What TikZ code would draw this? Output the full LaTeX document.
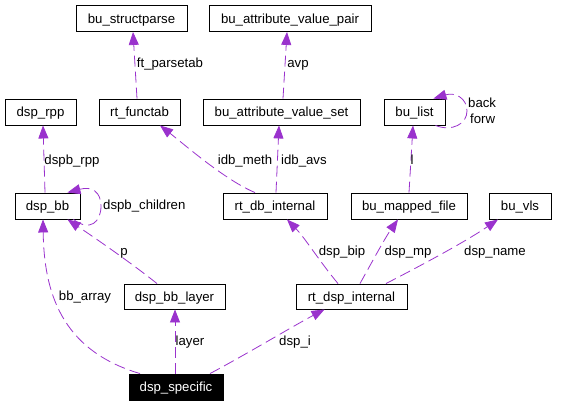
\documentclass[tikz,border=0pt]{standalone}
\usepackage{fontspec}
\setmainfont{Liberation Sans}
\usetikzlibrary{arrows.meta}
\definecolor{edgecol}{HTML}{9A32CD}
\tikzset{
  cls/.style={draw=black, line width=0.9pt, inner sep=0pt, text height=9.6pt, text depth=0pt,
    minimum height=26pt, font=\fontsize{13.2}{15}\selectfont},
  hl/.style={cls, fill=black, text=white},
  lbl/.style={inner sep=0pt, text height=9.6pt, text depth=0pt, font=\fontsize{13.2}{15}\selectfont},
  use/.style={draw=edgecol, line width=0.8pt, dash pattern=on 11pt off 5pt,
    -{Triangle[length=13pt,width=10pt]}, shorten >=0pt},
}
\begin{document}
\begin{tikzpicture}[x=1pt,y=-1pt]
\useasboundingbox (0,0) rectangle (588,405);
% nodes
\node[cls, minimum width=111pt] (sp) at (131.5,18.5) {bu\_structparse};
\node[cls, minimum width=162pt] (avp) at (290,18.5) {bu\_attribute\_value\_pair};
\node[cls, minimum width=71pt] (rpp) at (40.5,112) {dsp\_rpp};
\node[cls, minimum width=81pt] (ft) at (139.5,112) {rt\_functab};
\node[cls, minimum width=157pt] (avs) at (281.5,112) {bu\_attribute\_value\_set};
\node[cls, minimum width=61pt] (bl) at (414.5,112) {bu\_list};
\node[cls, minimum width=65pt] (bb) at (47.5,206) {dsp\_bb};
\node[cls, minimum width=104pt] (dbi) at (275,206) {rt\_db\_internal};
\node[cls, minimum width=116pt] (mf) at (409,206) {bu\_mapped\_file};
\node[cls, minimum width=62pt] (vls) at (520,206) {bu\_vls};
\node[cls, minimum width=101pt, minimum height=25pt] (lay) at (174.5,296.5) {dsp\_bb\_layer};
\node[cls, minimum width=111pt, minimum height=25pt] (dspi) at (351.5,296.5) {rt\_dsp\_internal};
\node[hl, minimum width=94pt] (spec) at (176,387) {dsp\_specific};
% edges
\draw[use] ([xshift=-2.5pt]ft.north) -- ([xshift=1.5pt]sp.south);
\node[lbl] (l1) at (170,63) {ft\_parsetab};
\draw[use] ([xshift=1.5pt]avs.north) -- ([xshift=-3pt]avp.south);
\node[lbl] (l2) at (298,63) {avp};
\draw[use] ([xshift=-2.5pt]bb.north) -- ([xshift=2.5pt]rpp.south);
\node[lbl] (l3) at (72,160) {dspb\_rpp};
\draw[use] ([xshift=-7pt]bb.south east) .. controls (90,232) and (101,222) .. (101,206)
  .. controls (101,192) and (92,186) .. ([xshift=-13pt]bb.north east);
\node[lbl, anchor=west] (l4) at (103,205) {dspb\_children};
\draw[use] ([xshift=-20pt]dbi.north) .. controls (225,180) and (185,145) .. ([xshift=20.5pt]ft.south);
\node[lbl] (l5) at (245,160) {idb\_meth};
\draw[use] ([xshift=1pt]dbi.north) -- ([xshift=-2.5pt]avs.south);
\node[lbl, anchor=west] (l6) at (281,160) {idb\_avs};
\draw[use] ([xshift=-10pt]bl.south east) .. controls (452,132) and (467,124) .. (467,111)
  .. controls (467,98) and (455,92) .. ([xshift=-12pt]bl.north east);
\node[lbl, anchor=west] (l7) at (468,103) {back};
\node[lbl, anchor=west] (l8) at (470,119) {forw};
\draw[use] (mf.north) -- ([xshift=-1.5pt]bl.south);
\node[lbl] (l9) at (412,160) {l};
\draw[use] ([xshift=-17.5pt]lay.north) .. controls (130,262) and (95,238) .. ([xshift=20pt]bb.south);
\node[lbl] (l10) at (124,251) {p};
\draw[use] ([xshift=-36pt]spec.north) .. controls (60,350) and (44,290) .. ([xshift=-4.5pt]bb.south);
\node[lbl] (l11) at (85,296) {bb\_array};
\draw[use] ([xshift=-1pt]spec.north) -- ([xshift=0.5pt]lay.south);
\node[lbl] (l12) at (190,341) {layer};
\draw[use] ([xshift=34pt]spec.north) .. controls (245,355) and (295,325) .. ([xshift=-27pt]dspi.south);
\node[lbl] (l13) at (295,341) {dsp\_i};
\draw[use] ([xshift=-13.5pt]dspi.north) .. controls (320,262) and (305,238) .. ([xshift=12pt]dbi.south);
\node[lbl] (l14) at (342,251) {dsp\_bip};
\draw[use] ([xshift=8.5pt]dspi.north) .. controls (372,262) and (385,238) .. ([xshift=-11pt]mf.south);
\node[lbl] (l15) at (408,251) {dsp\_mp};
\draw[use] ([xshift=34.5pt]dspi.north) .. controls (420,266) and (465,242) .. ([xshift=-22pt]vls.south);
\node[lbl] (l16) at (495,251) {dsp\_name};
\end{tikzpicture}
\end{document}
